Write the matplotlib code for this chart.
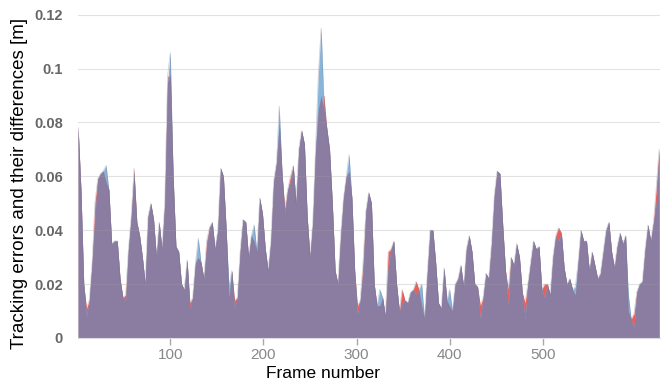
import matplotlib
matplotlib.use('Agg')
import matplotlib.pyplot as plt
import numpy as np

plt.rcParams['font.family'] = ['Liberation Sans', 'DejaVu Sans']

# frame numbers (every 3rd frame)
frames = np.arange(1, 626, 3)

# tracking error of the first method [m] (blue series)
err_blue = [
    0.078, 0.055, 0.02, 0.008, 0.014, 0.028, 0.045, 0.059, 0.061, 0.062, 0.064, 0.055,
    0.035, 0.036, 0.036, 0.022, 0.015, 0.014, 0.033, 0.045, 0.061, 0.043, 0.038, 0.03,
    0.02, 0.045, 0.05, 0.044, 0.03, 0.043, 0.033, 0.05, 0.095, 0.106, 0.06, 0.034,
    0.032, 0.02, 0.018, 0.029, 0.011, 0.015, 0.028, 0.037, 0.028, 0.022, 0.034, 0.041,
    0.043, 0.033, 0.04, 0.063, 0.06, 0.04, 0.019, 0.025, 0.011, 0.015, 0.032, 0.044,
    0.043, 0.03, 0.038, 0.042, 0.032, 0.052, 0.046, 0.033, 0.025, 0.036, 0.058,
    0.065, 0.086, 0.061, 0.046, 0.055, 0.058, 0.064, 0.05, 0.07, 0.077, 0.072, 0.045,
    0.03, 0.043, 0.07, 0.098, 0.115, 0.085, 0.078, 0.07, 0.05, 0.025, 0.02, 0.038,
    0.052, 0.06, 0.068, 0.052, 0.025, 0.009, 0.014, 0.025, 0.047, 0.054, 0.05,
    0.02, 0.012, 0.018, 0.015, 0.008, 0.026, 0.033, 0.036, 0.02, 0.01, 0.013, 0.014,
    0.013, 0.017, 0.018, 0.016, 0.018, 0.02, 0.007, 0.024, 0.04, 0.04, 0.028, 0.013,
    0.011, 0.026, 0.014, 0.018, 0.01, 0.02, 0.022, 0.027, 0.019, 0.033, 0.038,
    0.032, 0.02, 0.019, 0.007, 0.015, 0.024, 0.022, 0.035, 0.053, 0.062, 0.061, 0.042,
    0.025, 0.012, 0.03, 0.027, 0.035, 0.03, 0.017, 0.007, 0.02, 0.028, 0.036, 0.033,
    0.034, 0.018, 0.015, 0.02, 0.016, 0.03, 0.038, 0.036, 0.039, 0.026, 0.02,
    0.022, 0.018, 0.019, 0.028, 0.04, 0.036, 0.036, 0.025, 0.032, 0.027, 0.022, 0.024,
    0.032, 0.04, 0.043, 0.032, 0.026, 0.034, 0.039, 0.035, 0.038, 0.016, 0.007, 0.004,
    0.017, 0.02, 0.021, 0.033, 0.042, 0.036, 0.043, 0.05, 0.07,
]

# frames where the second method (red series) differs, and its values there
red_frames = [10, 19, 31, 52, 61, 97, 100, 121, 130, 139, 163, 169, 190, 217, 223, 229,
              259, 262, 265, 292, 301, 307, 325, 334, 349, 364, 370, 400, 433, 463, 481,
              502, 517, 535, 592, 598, 622]
red_vals = [0.011, 0.05, 0.058, 0.016, 0.063, 0.097, 0.098, 0.013, 0.03, 0.036, 0.015,
            0.014, 0.036, 0.08, 0.048, 0.06, 0.085, 0.09, 0.09, 0.062, 0.012, 0.028, 0.012,
            0.032, 0.018, 0.021, 0.012, 0.012, 0.012, 0.018, 0.013, 0.02, 0.041, 0.016,
            0.01, 0.009, 0.056]

blue = np.array(err_blue)
red = blue.copy()
for f, v in zip(red_frames, red_vals):
    red[(f - 1) // 3] = v

fig = plt.figure(figsize=(6.65, 3.86), dpi=100)
ax = fig.add_axes([0.1175, 0.1244, 0.875, 0.8446])

ax.fill_between(frames, 0, red, color='#e9605b', lw=0)
ax.fill_between(frames, 0, blue, color='#88b5d9', lw=0)
ax.fill_between(frames, 0, np.minimum(red, blue), color='#8b7ca2', lw=0)
ax.plot(frames, np.maximum(red, blue), color='#6f6a84', lw=0.5, alpha=0.35)

ax.set_xlim(1, 626)
ax.set_ylim(0, 0.121)
ax.set_yticks([0, 0.02, 0.04, 0.06, 0.08, 0.1, 0.12])
ax.set_yticklabels(['0', '0.02', '0.04', '0.06', '0.08', '0.1', '0.12'])
ax.set_xticks([100, 200, 300, 400, 500])

for yv in [0.02, 0.04, 0.06, 0.08, 0.1, 0.12]:
    ax.axhline(yv, color='#a0a0a0', lw=0.8, alpha=0.3, zorder=5)

for s in ['top', 'right', 'left']:
    ax.spines[s].set_visible(False)
ax.spines['bottom'].set_color('#dddddd')

ax.tick_params(axis='y', length=0, pad=11, labelsize=10.5, labelcolor='#666666')
ax.tick_params(axis='x', length=5, width=1, color='#aaaaaa', pad=2, labelsize=11, labelcolor='#888888')
for lab in ax.get_yticklabels():
    lab.set_fontweight('bold')

ax.set_xlabel('Frame number', fontsize=12.5, labelpad=0)
ax.xaxis.set_label_coords((323 - 78) / 582, -0.085)
ax.set_ylabel('Tracking errors and their differences [m]', fontsize=13.5)
ax.yaxis.set_label_coords(-0.087, 0.475)

fig.savefig('out.png', dpi=100)
